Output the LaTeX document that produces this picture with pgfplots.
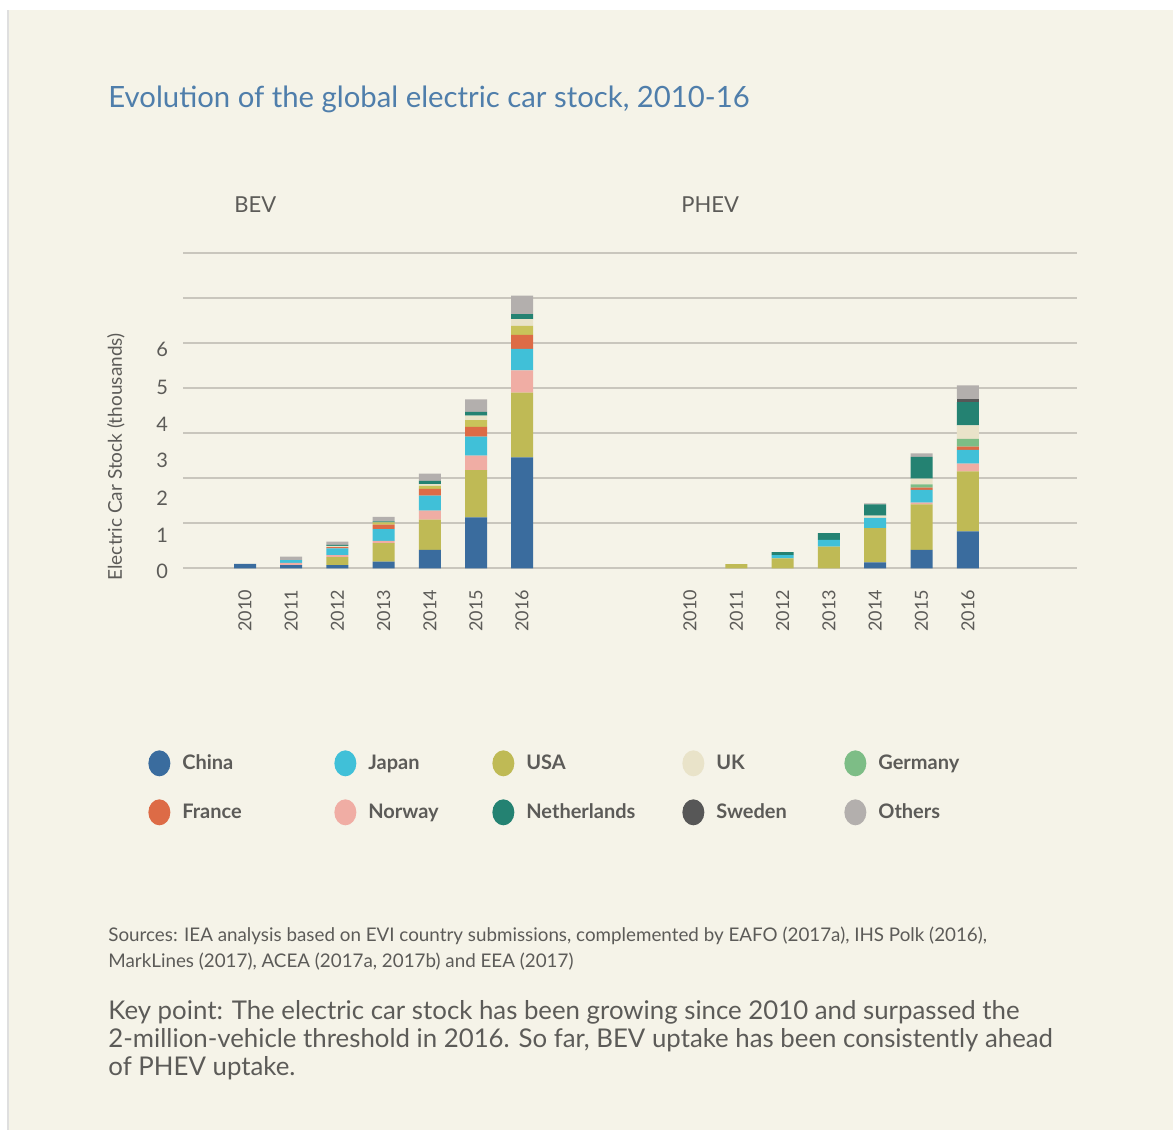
\documentclass[border=0pt]{standalone}
\usepackage{pgfplots}
\pgfplotsset{compat=1.18}
\usepackage{pgfplotstable}
\usepackage{fontspec}
\setmainfont{Lato}

\definecolor{bg}{HTML}{F5F3E8}
\definecolor{gridc}{HTML}{C9C6BD}
\definecolor{titleblue}{HTML}{4F7EAB}
\definecolor{txt}{HTML}{5C5B58}
\definecolor{cChina}{HTML}{3A6C9E}
\definecolor{cJapan}{HTML}{40C0D8}
\definecolor{cUSA}{HTML}{BFBA55}
\definecolor{cUK}{HTML}{E9E3C9}
\definecolor{cGermany}{HTML}{7DBD86}
\definecolor{cGerB}{HTML}{C9C35A}
\definecolor{cFrance}{HTML}{DD6B46}
\definecolor{cNorway}{HTML}{F0ADA4}
\definecolor{cNL}{HTML}{248272}
\definecolor{cSweden}{HTML}{575757}
\definecolor{cOthers}{HTML}{B3AFAD}

% x = horizontal position of the bar (BEV panel left, PHEV panel right)
\pgfplotstableread{
x      China USA  Norway Japan France GerB GerP UK   NL   Sweden Others
245.0  0.10  0    0      0     0      0    0    0    0    0      0
291.2  0.07  0    0.05   0.06  0      0    0    0    0    0      0.08
337.4  0.07  0.18 0.04   0.15  0.03   0    0    0.03 0.02 0      0.07
383.6  0.15  0.41 0.05   0.26  0.10   0.05 0    0    0.02 0      0.10
429.8  0.41  0.67 0.20   0.33  0.15   0.07 0    0.04 0.07 0      0.16
476.0  1.13  1.05 0.32   0.42  0.22   0.15 0    0.10 0.08 0      0.28
522.0  2.46  1.44 0.49   0.48  0.31   0.20 0    0.15 0.11 0      0.41
690.0  0     0    0      0     0      0    0    0    0    0      0
736.3  0     0.09 0      0     0      0    0    0    0    0      0
782.6  0     0.22 0      0.07  0      0    0    0    0.07 0      0
828.9  0     0.48 0      0.15  0      0    0    0    0.15 0      0
875.2  0.13  0.76 0      0.23  0      0    0    0.05 0.25 0      0.02
921.5  0.41  1.01 0.04   0.28  0.05   0    0.07 0.13 0.48 0      0.08
967.8  0.82  1.33 0.17   0.31  0.07   0    0.17 0.30 0.52 0.07   0.30
}\stock

\begin{document}
\begin{tikzpicture}[x=0.5pt,y=-0.5pt]
\fill[white] (0,0) rectangle (1173,1130);
\fill[bg] (8,10) rectangle (1173,1130);
\draw[gray!25,line width=0.6pt] (8,10) -- (8,1130);

\node[anchor=west,text=titleblue,font=\fontsize{14.65}{18}\selectfont,inner sep=0pt] at (108,99) {Evolution of the global electric car stock, 2010-16};
\node[anchor=west,text=txt,font=\fontsize{11}{13}\selectfont,inner sep=0pt] at (234,205) {BEV};
\node[anchor=west,text=txt,font=\fontsize{11}{13}\selectfont,inner sep=0pt] at (681,205) {PHEV};

\begin{axis}[
  at={(91.5pt,-286.4pt)}, anchor=south west,
  width=447pt, height=160pt, scale only axis,
  xmin=183, xmax=1077, ymin=-0.1, ymax=7,
  axis line style={draw=none},
  ybar stacked, bar width=11pt,
  major tick length=0pt,
  /pgf/number format/assume math mode=true,
  xtick={245,291.2,337.4,383.6,429.8,476,522,690,736.3,782.6,828.9,875.2,921.5,967.8},
  xticklabels={2010,2011,2012,2013,2014,2015,2016,2010,2011,2012,2013,2014,2015,2016},
  xticklabel style={rotate=90,anchor=east,text=txt,font=\fontsize{9}{10}\selectfont,xshift=-5pt},
  ytick={-0.075,0.74,1.55,2.39,3.2,4.02,4.85},
  yticklabels={0,1,2,3,4,5,6},
  yticklabel style={text=txt,font=\fontsize{10}{11}\selectfont,xshift=-4pt},
  extra y ticks={0,1,2,3,4,5,6,7},
  extra y tick labels={},
  extra y tick style={grid=major},
  major grid style={draw=gridc,line width=0.9pt},
  every axis plot/.append style={draw=none},
  ylabel={Electric Car Stock (thousands)},
  ylabel style={at={(axis description cs:-0.075,0.362)},anchor=center,text=txt,font=\fontsize{9.5}{11}\selectfont},
  legend columns=5,
  legend cell align=left,
  legend style={draw=none,fill=none,at={(-0.0459,-0.541)},anchor=north west,
    font=\bfseries\fontsize{10}{12}\selectfont,text=txt,
    column sep=0pt,row sep=11.5pt,
    /tikz/every odd column/.style={column sep=4pt}},
]
\addplot[fill=cChina,forget plot] table[x=x,y=China]{\stock};
\addplot[fill=cUSA,forget plot] table[x=x,y=USA]{\stock};
\addplot[fill=cNorway,forget plot] table[x=x,y=Norway]{\stock};
\addplot[fill=cJapan,forget plot] table[x=x,y=Japan]{\stock};
\addplot[fill=cFrance,forget plot] table[x=x,y=France]{\stock};
\addplot[fill=cGerB,forget plot] table[x=x,y=GerB]{\stock};
\addplot[fill=cGermany,forget plot] table[x=x,y=GerP]{\stock};
\addplot[fill=cUK,forget plot] table[x=x,y=UK]{\stock};
\addplot[fill=cNL,forget plot] table[x=x,y=NL]{\stock};
\addplot[fill=cSweden,forget plot] table[x=x,y=Sweden]{\stock};
\addplot[fill=cOthers,forget plot] table[x=x,y=Others]{\stock};

\addlegendimage{legend image code/.code={\fill[cChina] (0pt,0pt) ellipse (5.5pt and 6.5pt);}}
\addlegendentry{\makebox[74pt][l]{China}}
\addlegendimage{legend image code/.code={\fill[cJapan] (0pt,0pt) ellipse (5.5pt and 6.5pt);}}
\addlegendentry{\makebox[60pt][l]{Japan}}
\addlegendimage{legend image code/.code={\fill[cUSA] (0pt,0pt) ellipse (5.5pt and 6.5pt);}}
\addlegendentry{\makebox[76pt][l]{USA}}
\addlegendimage{legend image code/.code={\fill[cUK] (0pt,0pt) ellipse (5.5pt and 6.5pt);}}
\addlegendentry{\makebox[62pt][l]{UK}}
\addlegendimage{legend image code/.code={\fill[cGermany] (0pt,0pt) ellipse (5.5pt and 6.5pt);}}
\addlegendentry{\makebox[60pt][l]{Germany}}
\addlegendimage{legend image code/.code={\fill[cFrance] (0pt,0pt) ellipse (5.5pt and 6.5pt);}}
\addlegendentry{France}
\addlegendimage{legend image code/.code={\fill[cNorway] (0pt,0pt) ellipse (5.5pt and 6.5pt);}}
\addlegendentry{Norway}
\addlegendimage{legend image code/.code={\fill[cNL] (0pt,0pt) ellipse (5.5pt and 6.5pt);}}
\addlegendentry{Netherlands}
\addlegendimage{legend image code/.code={\fill[cSweden] (0pt,0pt) ellipse (5.5pt and 6.5pt);}}
\addlegendentry{Sweden}
\addlegendimage{legend image code/.code={\fill[cOthers] (0pt,0pt) ellipse (5.5pt and 6.5pt);}}
\addlegendentry{Others}
\end{axis}

\node[anchor=north west,align=left,text=txt,inner sep=0pt,font=\fontsize{9.4}{13}\selectfont] at (108,927)
 {Sources: IEA analysis based on EVI country submissions, complemented by EAFO (2017a), IHS Polk (2016),\\
  MarkLines (2017), ACEA (2017a, 2017b) and EEA (2017)};
\node[anchor=north west,align=left,text=txt,inner sep=0pt,font=\fontsize{12.9}{14}\selectfont] at (108,1000)
 {Key point: The electric car stock has been growing since 2010 and surpassed the\\
  2-million-vehicle threshold in 2016. So far, BEV uptake has been consistently ahead\\
  of PHEV uptake.};
\end{tikzpicture}
\end{document}
